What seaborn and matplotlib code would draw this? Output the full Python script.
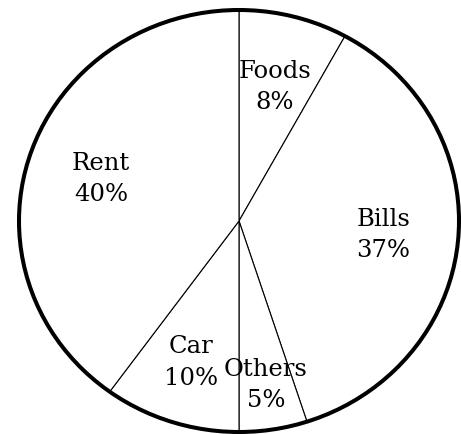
import matplotlib
matplotlib.use("Agg")
import matplotlib.pyplot as plt
from matplotlib.patches import Circle
import numpy as np
import seaborn as sns

# Monthly spending shares, clockwise from the top
categories = ["Foods", "Bills", "Others", "Car", "Rent"]
shares = [8, 37, 5, 10, 40]
labels = [f"{c}\n{s}%" for c, s in zip(categories, shares)]

sns.set_theme(style="white")
plt.rcParams["font.family"] = ["DejaVu Serif", "DejaVu Sans"]

fig = plt.figure(figsize=(4.61, 4.35), dpi=100)
ax = fig.add_axes([0, 0, 1, 1])

colors = ["white"] * len(shares)
wedges, texts = ax.pie(
    shares,
    labels=labels,
    colors=colors,
    startangle=90,
    counterclock=False,
    labeldistance=0.66,
    wedgeprops=dict(edgecolor="black", linewidth=0.8),
    textprops=dict(ha="center", va="center", fontsize=17.5,
                   color="black", linespacing=1.45),
)

# push the labels of the narrow wedges a little further out
for w, t, name in zip(wedges, texts, categories):
    if name in ("Others", "Car"):
        mid = np.deg2rad((w.theta1 + w.theta2) / 2)
        d = 0.78 if name == "Others" else 0.70
        t.set_position((d * np.cos(mid), d * np.sin(mid)))

# heavy outline around the whole pie
ax.add_patch(Circle((0, 0), 1.0, fill=False, edgecolor="black",
                    linewidth=2.9, zorder=5))

ax.set_aspect("auto")
rx, ry = 220.0, 211.0
cx, cy = 239.0, 222.0
ax.set_xlim(-cx / rx, (461 - cx) / rx)
ax.set_ylim(-(435 - cy) / ry, cy / ry)
ax.axis("off")

fig.savefig("out.png", dpi=100, facecolor="white")
